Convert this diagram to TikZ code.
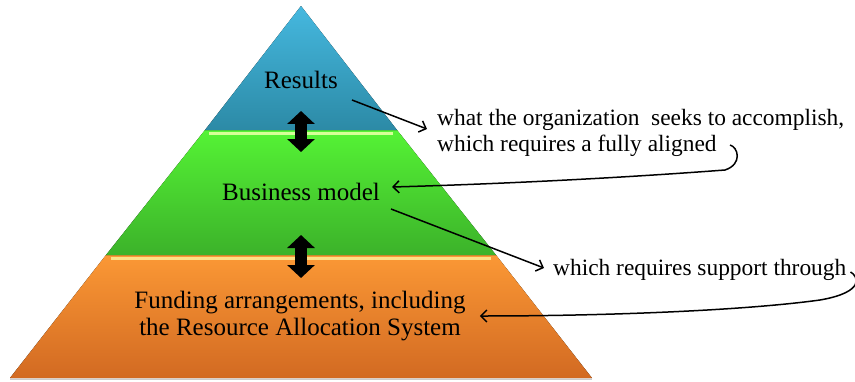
\documentclass[tikz,border=0pt]{standalone}
\usepackage{fontspec}
\setmainfont{Liberation Serif}
\usetikzlibrary{calc, arrows.meta, positioning}

\definecolor{bluetop}{HTML}{45B8DF}
\definecolor{bluebot}{HTML}{2C8AA6}
\definecolor{greentop}{HTML}{55F335}
\definecolor{greenbot}{HTML}{3CB22A}
\definecolor{orangetop}{HTML}{FB9835}
\definecolor{orangebot}{HTML}{D26A22}

\begin{document}
\begin{tikzpicture}[x=1pt, y=-1pt]
	\tikzset{
		pyrtext/.style = {font={\fontsize{25}{27}\selectfont}, inner sep=0pt, align=center},
		sidetext/.style = {font={\fontsize{23.4}{26}\selectfont}, inner sep=0pt, align=left, anchor=west},
		arrow/.style = {-{Straight Barb[length=6pt, width=12pt]}, line width=1.5pt},
		dblarrow/.style = {{Triangle[length=13pt, width=27pt]}-{Triangle[length=13pt, width=27pt]}, line width=12pt},
		tier/.style = {shading=axis, shading angle=0},
	}

	\useasboundingbox (0,0) rectangle (855,381);

	% pyramid
	\draw[gray!40, line width=1.5pt] (10,379.5) -- (592,379.5);
	\fill[tier, top color=orangetop, bottom color=orangebot] (106,255) -- (496,255) -- (592,378) -- (10,378) -- cycle;
	\fill[tier, top color=greentop, bottom color=greenbot] (205,130) -- (397,130) -- (496,255) -- (106,255) -- cycle;
	\fill[tier, top color=bluetop, bottom color=bluebot] (301,6) -- (397,130) -- (205,130) -- cycle;
	\draw[line width=3pt, color=green!20!lime!40] (209,133) -- (393,133);
	\draw[line width=3pt, color=yellow!55!orange!45] (111,258) -- (491,258);

	\node[pyrtext] (res) at (301,80) {Results};
	\node[pyrtext] (bm) at (301,192) {Business model};
	\node[pyrtext] (fund) at (300,316) {Funding arrangements, including\\the Resource Allocation System};

	\node[sidetext] (org) at (437,133) {what the organization\ \ seeks to accomplish,\\which requires a fully aligned};
	\node[sidetext] (sup) at (553,270) {which requires support through};

	\coordinate (hookA) at (730,145);

	\draw[dblarrow] ($(res.south)+(0,22)$) -- ($(bm.north)+(0,-31)$);
	\draw[dblarrow] ($(bm.south)+(0,34)$) -- ($(bm.south)+(0,77)$);

	\draw[arrow] ($(res.south east)+(14,11)$) -- ($(org.west)+(-10,-4)$);
	\draw[arrow] ($(bm.south east)+(11,8)$) -- ($(sup.west)+(-9,-2)$);

	\draw[arrow] (hookA) .. controls (738,147) and (743,164) .. (725,170) .. controls (620,178) and (500,184) .. ($(bm.east)+(12,-5)$);
	\draw[arrow] ($(sup.east)+(4,2)$) .. controls (858,276) and (866,292) .. (820,300) .. controls (740,311) and (600,316) .. ($(fund.east)+(14,0)$);
\end{tikzpicture}
\end{document}
